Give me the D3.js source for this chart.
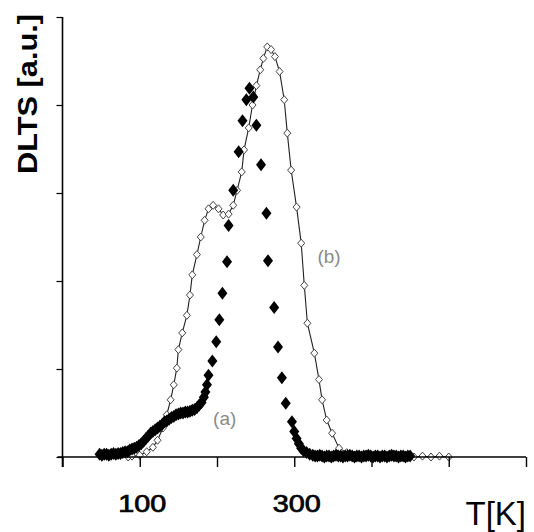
<!DOCTYPE html>
<html>
<head>
<meta charset="utf-8">
<script src="https://cdn.jsdelivr.net/npm/d3@7/dist/d3.min.js"></script>
<style>
  html, body { margin: 0; padding: 0; background: #fff; }
  svg { display: block; }
</style>
</head>
<body>
<div id="chart"></div>
<script>
// Values: temperature [K] and DLTS signal [a.u.]

// curve (a): filled diamonds
const tempA = [48, 51, 54, 57, 60, 63, 66, 69, 72, 75, 78, 81, 84, 87, 90, 93, 96, 99, 102, 105,
  108, 111, 114, 117, 120, 123, 126, 129, 132, 135, 138, 141, 144, 147, 150, 153, 156, 159, 162, 165,
  168, 171, 174, 177, 180, 183, 185, 187, 189,
  194, 199, 203, 207, 213, 215, 221, 228, 233, 238, 242, 247, 251, 257, 264, 266, 274, 279, 284, 289,
  297, 300, 303, 306, 309, 312, 316, 320, 324,
  327, 330, 333, 336, 339, 342, 345, 348, 351, 354, 357, 360, 363, 366, 369, 372, 375, 378, 381, 384,
  387, 390, 393, 396, 399, 402, 405, 408, 411, 414, 417, 420, 423, 426, 429, 432, 435, 438, 441, 444,
  447, 450];
const dltsA = [0.03, 0.02, 0.03, 0.03, 0.02, 0.03, 0.04, 0.03, 0.04, 0.04, 0.05, 0.06, 0.06, 0.08, 0.09, 0.10, 0.11, 0.13, 0.15, 0.18,
  0.21, 0.24, 0.27, 0.29, 0.31, 0.33, 0.35, 0.37, 0.40, 0.41, 0.43, 0.45, 0.46, 0.48, 0.49, 0.50, 0.50, 0.51, 0.51, 0.52,
  0.53, 0.54, 0.56, 0.59, 0.62, 0.68, 0.74, 0.82, 0.93,
  1.09, 1.31, 1.56, 1.86, 2.22, 2.63, 3.03, 3.47, 3.82, 4.06, 4.19, 4.09, 3.77, 3.32, 2.77, 2.23, 1.70, 1.25, 0.90, 0.61,
  0.40, 0.29, 0.21, 0.15, 0.10, 0.07, 0.05, 0.03, 0.02,
  0.01, 0.01, 0.02, 0.01, 0.00, 0.01, 0.01, 0.00, 0.01, 0.02, 0.01, 0.01, 0.00, 0.01, 0.01, 0.02, 0.01, 0.00, 0.01, 0.01,
  0.00, 0.01, 0.01, 0.02, 0.01, 0.00, 0.01, 0.01, 0.00, 0.01, 0.01, 0.00, 0.01, 0.02, 0.01, 0.01, 0.00, 0.01, 0.01, 0.00,
  0.01, 0.01];

// curve (b): open markers joined by a line
const tempB = [85, 90, 100, 109, 117, 123, 130, 135, 140, 144, 148, 150, 155, 161, 165, 168, 174, 179, 184, 189,
  195, 202, 208, 215, 221, 226, 232, 235, 241, 246, 251, 256, 260, 265, 270, 275, 281, 287, 291, 296,
  303, 309, 313, 317, 326, 332, 336, 342, 349, 358, 368, 377,
  389, 400, 411, 422, 433, 444, 455, 466, 477, 488, 500];
const dltsB = [0.00, 0.01, 0.02, 0.06, 0.11, 0.19, 0.33, 0.48, 0.65, 0.82, 1.01, 1.22, 1.41, 1.61, 1.84, 2.07, 2.30, 2.50, 2.69, 2.82,
  2.86, 2.82, 2.75, 2.76, 2.86, 3.03, 3.24, 3.49, 3.74, 4.00, 4.22, 4.40, 4.53, 4.66, 4.63, 4.55, 4.38, 4.06, 3.68, 3.26,
  2.84, 2.43, 1.95, 1.52, 1.18, 0.88, 0.65, 0.42, 0.27, 0.10, 0.05, 0.02,
  0.01, 0.01, 0.00, 0.01, 0.00, 0.01, 0.00, 0.01, 0.00, 0.01, 0.00];

const xTicks = [0, 100, 200, 300, 400, 500, 600];
const xLabelled = [100, 300];
const yTicks = [0, 1, 2, 3, 4, 5];

const width = 534;
const height = 532;

const svg = d3.select('#chart')
    .append('svg')
    .attr('width', width)
    .attr('height', height);

const x = d3.scaleLinear().domain([0, 600]).range([62.5, 526]);
const y = d3.scaleLinear().domain([0, 5]).range([457, 17]);

// diamond of given width/height (d3's own diamond is too narrow)
function diamond(w, h) {
    return {
        draw(ctx) {
            ctx.moveTo(0, -h / 2);
            ctx.lineTo(w / 2, 0);
            ctx.lineTo(0, h / 2);
            ctx.lineTo(-w / 2, 0);
            ctx.closePath();
        }
    };
}

const pointsA = tempA.map((t, i) => [t, dltsA[i]]);
const pointsB = tempB.map((t, i) => [t, dltsB[i]]);

// Curve (b) first, so the filled diamonds sit on top
const line = d3.line().x(d => x(d[0])).y(d => y(d[1]));
svg.append('path')
    .datum(pointsB)
    .attr('d', line)
    .attr('fill', 'none')
    .attr('stroke', '#222')
    .attr('stroke-width', 1.1);

svg.append('g')
    .selectAll('path')
    .data(pointsB)
    .join('path')
    .attr('transform', d => `translate(${x(d[0])},${y(d[1])})`)
    .attr('d', d3.symbol().type(diamond(7, 8)))
    .attr('fill', '#fff')
    .attr('stroke', '#444')
    .attr('stroke-width', 1);

// Axes
const xAxis = svg.append('g')
    .attr('transform', `translate(0,${y(0)})`)
    .call(d3.axisBottom(x)
        .tickValues(xTicks)
        .tickSize(10)
        .tickSizeOuter(0)
        .tickFormat(d => xLabelled.includes(d) ? d : ''));
xAxis.select('.domain').attr('stroke-width', 1.6).attr('d', `M${x(0) - 5},0H${x(600)}`);
xAxis.selectAll('.tick line').attr('stroke-width', 1.4);
xAxis.selectAll('.tick text')
    .attr('x', 2)
    .attr('y', 55)
    .attr('dy', 0)
    .attr('font-family', '"Liberation Sans", Arial, sans-serif')
    .attr('font-size', 23)
    .attr('fill', '#000')
    .attr('stroke', '#000')
    .attr('stroke-width', 0.7)
    .attr('textLength', 48)
    .attr('lengthAdjust', 'spacingAndGlyphs');

const yAxis = svg.append('g')
    .attr('transform', `translate(${x(0)},0)`)
    .call(d3.axisLeft(y)
        .tickValues(yTicks)
        .tickSize(6)
        .tickSizeOuter(0)
        .tickFormat(''));
yAxis.select('.domain').attr('stroke-width', 1.6).attr('d', `M0,${y(0) + 10}V${y(5)}`);
yAxis.selectAll('.tick line').attr('stroke-width', 1.2);

// Curve (a): filled diamonds
svg.append('g')
    .selectAll('path')
    .data(pointsA)
    .join('path')
    .attr('transform', d => `translate(${x(d[0])},${y(d[1])})`)
    .attr('d', d3.symbol().type(diamond(10, 13)))
    .attr('fill', '#000');

// Axis titles
svg.append('text')
    .attr('transform', 'translate(37,94) rotate(-90)')
    .attr('text-anchor', 'middle')
    .attr('font-family', '"Liberation Sans", Arial, sans-serif')
    .attr('font-size', 27)
    .attr('font-weight', 'bold')
    .attr('textLength', 160)
    .attr('lengthAdjust', 'spacingAndGlyphs')
    .text('DLTS [a.u.]');

svg.append('text')
    .attr('x', 526)
    .attr('y', 525)
    .attr('text-anchor', 'end')
    .attr('font-family', '"Liberation Sans", Arial, sans-serif')
    .attr('font-size', 33)
    .text('T[K]');

// Curve labels
const curveLabels = [
    { text: '(a)', t: 210, v: 0.36 },
    { text: '(b)', t: 345, v: 2.2 }
];
svg.append('g')
    .selectAll('text')
    .data(curveLabels)
    .join('text')
    .attr('x', d => x(d.t))
    .attr('y', d => y(d.v))
    .attr('text-anchor', 'middle')
    .attr('font-family', '"Liberation Sans", Arial, sans-serif')
    .attr('font-size', 19)
    .attr('fill', '#8a8a8a')
    .text(d => d.text);
</script>
</body>
</html>
